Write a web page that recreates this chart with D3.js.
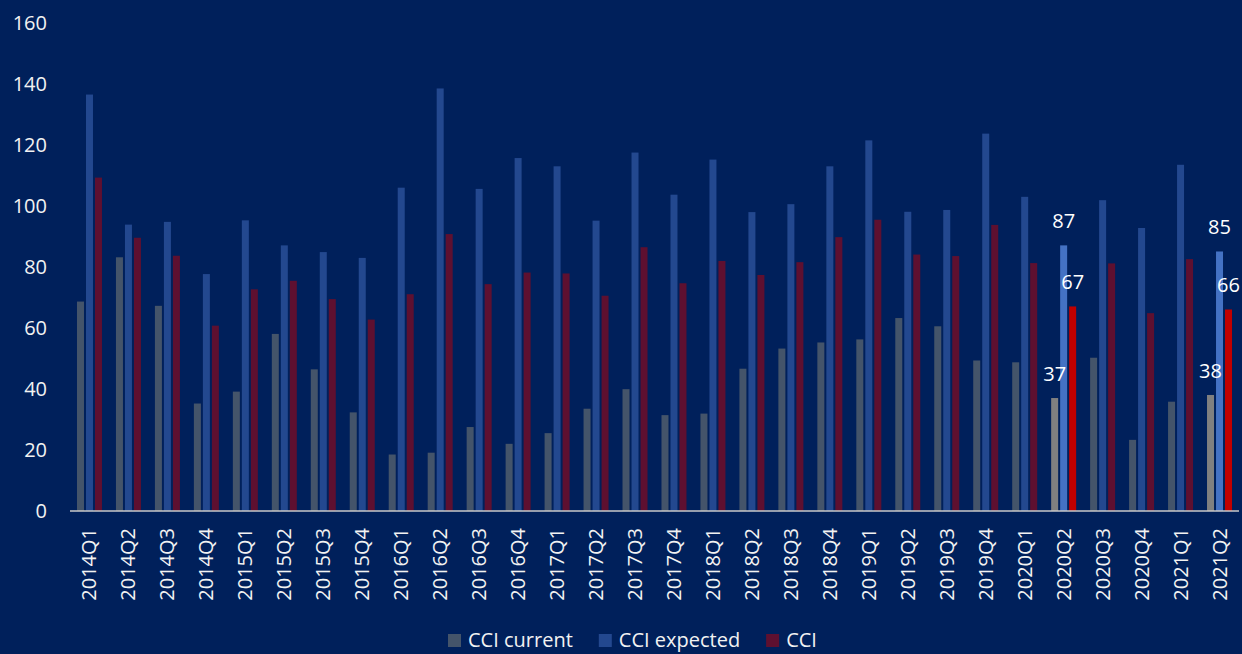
<!DOCTYPE html>
<html>
<head>
<meta charset="utf-8">
<script src="https://cdn.jsdelivr.net/npm/d3@7"></script>
<style>
  html, body { margin: 0; padding: 0; background: #00205B; }
  svg { display: block; font-family: "Open Sans", "Noto Sans", sans-serif; }
</style>
</head>
<body>
<div id="chart"></div>
<script>
const quarters = ["2014Q1","2014Q2","2014Q3","2014Q4","2015Q1","2015Q2","2015Q3","2015Q4",
  "2016Q1","2016Q2","2016Q3","2016Q4","2017Q1","2017Q2","2017Q3","2017Q4",
  "2018Q1","2018Q2","2018Q3","2018Q4","2019Q1","2019Q2","2019Q3","2019Q4",
  "2020Q1","2020Q2","2020Q3","2020Q4","2021Q1","2021Q2"];
const cci_current = [68.6, 83.1, 67.2, 35.2, 39.1, 58.0, 46.4, 32.3, 18.5, 19.1, 27.5, 22.0, 25.5, 33.5, 39.9,
  31.4, 31.9, 46.6, 53.2, 55.2, 56.2, 63.2, 60.5, 49.3, 48.7, 37, 50.2, 23.3, 35.8, 38];
const cci_expected = [136.4, 93.8, 94.7, 77.6, 95.2, 87.0, 84.8, 82.9, 105.9, 138.4, 105.5, 115.6, 112.9, 95.1, 117.4,
  103.6, 115.1, 97.9, 100.5, 112.9, 121.4, 98.0, 98.6, 123.6, 102.9, 87, 101.8, 92.7, 113.4, 85];
const cci = [109.2, 89.5, 83.6, 60.7, 72.6, 75.4, 69.4, 62.7, 71.0, 90.7, 74.3, 78.1, 77.8, 70.5, 86.4,
  74.6, 81.9, 77.3, 81.5, 89.7, 95.4, 84.0, 83.5, 93.7, 81.2, 67, 81.1, 64.8, 82.5, 66];
const series_names = ["CCI current", "CCI expected", "CCI"];
const highlighted = ["2020Q2", "2021Q2"];
const y_ticks = [0, 20, 40, 60, 80, 100, 120, 140, 160];

const width = 1242, height = 654;
const base_colors = { "CCI current": "#44546A", "CCI expected": "#23488F", "CCI": "#5E1030" };
const hi_colors = { "CCI current": "#808080", "CCI expected": "#4472C4", "CCI": "#C00000" };
const text_color = "#F2F2F2";

const series = [cci_current, cci_expected, cci];
const rows = [];
quarters.forEach((q, i) => {
  series_names.forEach((s, j) => rows.push({ q, s, v: series[j][i] }));
});

const svg = d3.select("#chart").append("svg")
  .attr("width", width).attr("height", height);

svg.append("rect").attr("width", width).attr("height", height).attr("fill", "#00205B");

const x = d3.scaleBand().domain(quarters).range([70, 1239]).padding(0);
const groupW = 25;
const xi = d3.scaleBand().domain(series_names).range([0, groupW]).paddingInner(0.222).paddingOuter(0);
const y = d3.scaleLinear().domain([0, 160]).range([511, 22.5]);

// y axis labels
svg.append("g")
  .selectAll("text")
  .data(y_ticks)
  .join("text")
  .attr("x", 47)
  .attr("y", (d) => y(d))
  .attr("dy", "0.35em")
  .attr("text-anchor", "end")
  .attr("fill", text_color)
  .style("font-size", "20px")
  .text((d) => d);

// bars
const off = (x.bandwidth() - groupW) / 2;
svg.append("g")
  .selectAll("rect")
  .data(rows)
  .join("rect")
  .attr("x", (d) => x(d.q) + off + xi(d.s))
  .attr("width", xi.bandwidth())
  .attr("y", (d) => y(d.v))
  .attr("height", (d) => y(0) - y(d.v))
  .attr("fill", (d) => (highlighted.includes(d.q) ? hi_colors[d.s] : base_colors[d.s]));

// data labels on highlighted quarters
svg.append("g")
  .selectAll("text")
  .data(rows.filter((d) => highlighted.includes(d.q)))
  .join("text")
  .attr("x", (d) => x(d.q) + off + xi(d.s) + xi.bandwidth() / 2)
  .attr("y", (d) => y(d.v) - 17)
  .attr("text-anchor", "middle")
  .attr("fill", "#FFFFFF")
  .style("font-size", "20px")
  .text((d) => Math.round(d.v));

// x axis line
svg.append("line")
  .attr("x1", 70).attr("x2", 1239)
  .attr("y1", y(0)).attr("y2", y(0))
  .attr("stroke", "#C8C8C8")
  .attr("stroke-width", 1.5);

// x labels
svg.append("g")
  .selectAll("text")
  .data(quarters)
  .join("text")
  .attr("transform", (d) => `translate(${x(d) + x.bandwidth() / 2},528) rotate(-90)`)
  .attr("dy", "0.35em")
  .attr("text-anchor", "end")
  .attr("fill", text_color)
  .style("font-size", "20px")
  .text((d) => d);

// legend
const legend = svg.append("g");
let lx = 448;
series_names.forEach((s) => {
  legend.append("rect")
    .attr("x", lx).attr("y", 634)
    .attr("width", 13).attr("height", 13)
    .attr("fill", base_colors[s]);
  const t = legend.append("text")
    .attr("x", lx + 20).attr("y", 647)
    .attr("fill", text_color)
    .style("font-size", "20px")
    .text(s);
  lx += 20 + t.node().getComputedTextLength() + 26;
});
</script>
</body>
</html>
